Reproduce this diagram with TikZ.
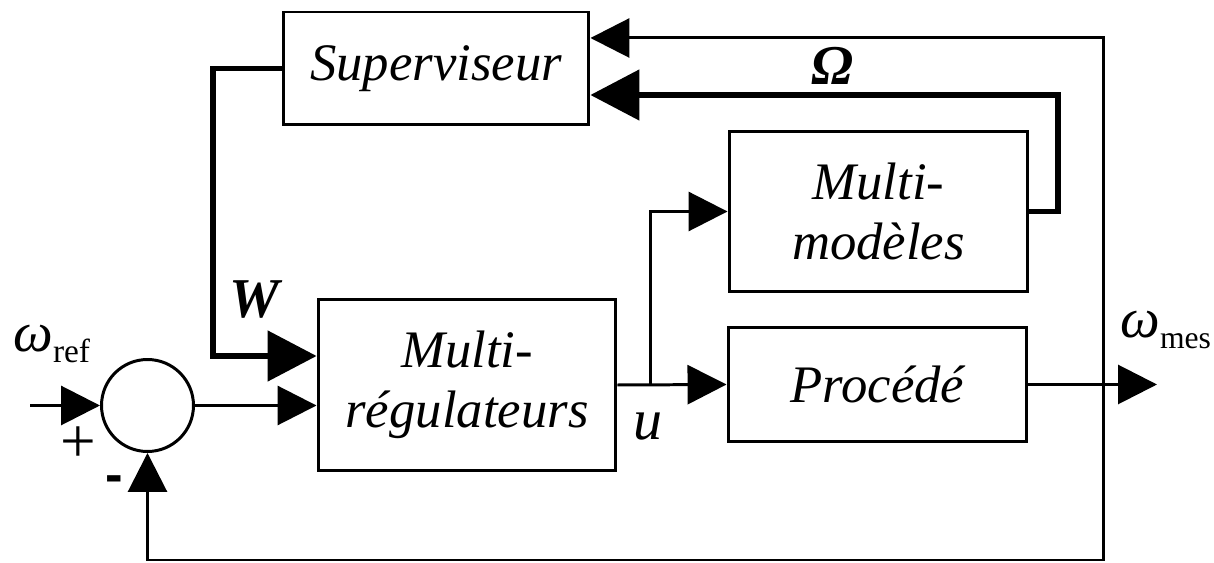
\documentclass[tikz,border=0pt]{standalone}
\usepackage{fontspec}
\setmainfont{Liberation Serif}
\setsansfont{Liberation Sans}
\usetikzlibrary{arrows.meta,calc}
\begin{document}
\begin{tikzpicture}[x=0.02cm,y=-0.02cm,
  box/.style={draw,line width=1.7pt,inner sep=0pt,align=center,
    font=\fontsize{30}{34}\selectfont\itshape},
  sigtip/.tip={Triangle[length=0.78cm,width=0.78cm]},
  bustip/.tip={Triangle[length=0.98cm,width=1.0cm]},
  sig/.style={line width=1.7pt,-sigtip},
  sigboth/.style={line width=1.7pt,sigtip-sigtip},
  bus/.style={line width=2.9pt,-bustip},
  lbl/.style={inner sep=0pt,font=\fontsize{32}{34}\selectfont\bfseries\itshape}
]
\useasboundingbox (0,0) rectangle (1214,563);

% blocks
\node[box,minimum width=6.12cm,minimum height=2.26cm] (sup) at (436,68.5) {Superviseur};
\node[box,minimum width=5.96cm,minimum height=3.44cm] (mreg) at (467,385) {Multi-\\régulateurs};
\node[box,minimum width=5.98cm,minimum height=3.22cm] (mmod) at (878.5,211.5) {Multi-\\modèles};
\node[box,minimum width=5.98cm,minimum height=2.3cm] (proc) at (877.5,384.5) {Procédé};
\node[draw,circle,line width=1.7pt,minimum size=1.84cm,inner sep=0pt] (sum) at (147.5,405.5) {};

% routing points
\coordinate (src) at (30,405.5);
\coordinate (wc) at (213,356);
\coordinate (ubr) at (650,385);
\coordinate (out) at (1157,384.5);
\coordinate (fbt) at (1103,38);
\coordinate (fbb) at (1103,560);
\coordinate (oc) at (1058,95);

% signals
\draw[bus] (sup.west) -| (wc) -- (mreg.west |- wc);
\draw[sig] (src) -- (sum.west);
\draw[sig] (sum.east) -- (sum.east -| mreg.west);
\draw[sig] (mreg.east) -- (proc.west);
\draw[sig] (ubr) |- (mmod.west);
\draw[sig] (proc.east) -- (out);
\draw[sigboth] (fbt -| sup.east) -- (fbt) -- (fbb) -| (sum.south);
\draw[bus] (mmod.east) -| (oc) -- (oc -| sup.east);

% labels
\node[lbl] (omg) at (832,66) {Ω};
\node[lbl] (wlab) at (254,300) {W};
\node[inner sep=0pt,font=\fontsize{33}{34}\selectfont\itshape] (ulab) at (648,427) {u};
\node[inner sep=0pt,anchor=base west,font=\fontsize{32}{32}\selectfont\itshape] (wref) at (13,352)
  {ω\raisebox{-6pt}{\upshape\fontsize{19}{19}\selectfont ref}};
\node[inner sep=0pt,anchor=base west,font=\fontsize{32}{32}\selectfont\itshape] (wmes) at (1120,338)
  {ω\raisebox{-6pt}{\upshape\fontsize{18}{18}\selectfont mes}};
\node[inner sep=0pt,font=\fontsize{36}{36}\selectfont] (plus) at (78,445) {+};
\node[inner sep=0pt,font=\sffamily\bfseries\fontsize{30}{30}\selectfont] (minus) at (114,484) {-};
\end{tikzpicture}
\end{document}
